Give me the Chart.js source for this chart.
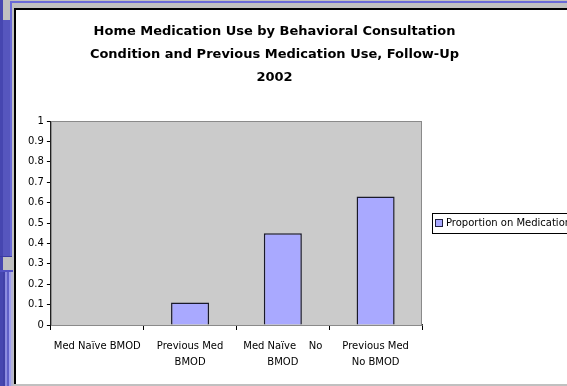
<!DOCTYPE html>
<html>
<head>
<meta charset="utf-8">
<script src="https://cdn.jsdelivr.net/npm/chart.js@4/dist/chart.umd.min.js"></script>
<style>
  html, body { margin: 0; padding: 0; }
  body { width: 567px; height: 386px; overflow: hidden; position: relative; background: #c0c0c0; }
  .strip { position: absolute; }
  #frame { position: absolute; left: 14px; top: 8px; width: 600px; height: 376px; background: #000; }
  #sheet { position: absolute; left: 16px; top: 10px; width: 600px; height: 374px; background: #fff; }
  #chart { position: absolute; left: 16px; top: 10px; }
</style>
</head>
<body>
<!-- window chrome around the chart sheet -->
<div class="strip" style="left:10px;top:1px;width:557px;height:2px;background:#6a6ad8"></div>
<div class="strip" style="left:0;top:0;width:3px;height:386px;background:#4646b0"></div>
<div class="strip" style="left:10px;top:1px;width:2px;height:255px;background:#6a6ad8"></div>
<div class="strip" style="left:3px;top:20px;width:7px;height:236px;background:#5656be"></div>
<div class="strip" style="left:0;top:256px;width:12px;height:1px;background:#3a3aa2"></div>
<div class="strip" style="left:0;top:270px;width:13px;height:2px;background:#5252c4"></div>
<div class="strip" style="left:3px;top:272px;width:2px;height:114px;background:#4040a8"></div>
<div class="strip" style="left:5px;top:272px;width:2px;height:114px;background:#8c8ce0"></div>
<div class="strip" style="left:7px;top:272px;width:2px;height:114px;background:#6060c8"></div>
<div class="strip" style="left:9px;top:272px;width:2px;height:114px;background:#a0a0f0"></div>
<div class="strip" style="left:11px;top:272px;width:2px;height:114px;background:#b4b4d4"></div>
<div id="frame"></div>
<div id="sheet"></div>
<canvas id="chart" width="560" height="373"></canvas>
<script>
const categories = [
  'Med Naïve BMOD',
  ['Previous Med', 'BMOD'],
  ['Med Naïve    No', 'BMOD'],
  ['Previous Med', 'No BMOD']
];
const seriesName = 'Proportion on Medication';
const proportionOnMedication = [0, 0.11, 0.45, 0.63];
const yTickLabels = ['0', '0.1', '0.2', '0.3', '0.4', '0.5', '0.6', '0.7', '0.8', '0.9', '1'];
const titleLines = [
  'Home Medication Use by Behavioral Consultation',
  'Condition and Previous Medication Use, Follow-Up',
  '2002'
];

const FONT = '"DejaVu Sans", Verdana, sans-serif';
const BAR_FILL = '#a9a9ff';

// Grey plot area with a thin grey frame, drawn before the datasets
const plotBackground = {
  id: 'plotBackground',
  beforeDatasetsDraw(chart) {
    const { ctx, chartArea: a } = chart;
    ctx.save();
    ctx.fillStyle = '#cbcbcb';
    ctx.fillRect(a.left, a.top, a.right - a.left, a.bottom - a.top);
    ctx.strokeStyle = '#8a8a8a';
    ctx.lineWidth = 1;
    ctx.strokeRect(a.left + 0.5, a.top + 0.5, a.right - a.left - 1, a.bottom - a.top);
    ctx.restore();
  }
};

// Title block and the boxed legend to the right of the plot
const decorations = {
  id: 'decorations',
  afterDraw(chart) {
    const { ctx, chartArea: a } = chart;
    ctx.save();
    ctx.fillStyle = '#000';
    ctx.font = 'bold 13px ' + FONT;
    ctx.textAlign = 'center';
    ctx.textBaseline = 'middle';
    titleLines.forEach((t, i) => ctx.fillText(t, 258.5, 22 + i * 23));

    const lx = a.right + 10, ly = Math.round((a.top + a.bottom) / 2) - 10;
    ctx.fillStyle = '#fff';
    ctx.fillRect(lx, ly, 200, 20);
    ctx.strokeStyle = '#000';
    ctx.lineWidth = 1;
    ctx.strokeRect(lx + 0.5, ly + 0.5, 200, 20);
    ctx.fillStyle = BAR_FILL;
    ctx.fillRect(lx + 3.5, ly + 6.5, 7, 7);
    ctx.strokeStyle = '#202040';
    ctx.strokeRect(lx + 3.5, ly + 6.5, 7, 7);
    ctx.fillStyle = '#000';
    ctx.font = '10px ' + FONT;
    ctx.textAlign = 'left';
    ctx.fillText(seriesName, lx + 14, ly + 10.5);
    ctx.restore();
  }
};

new Chart(document.getElementById('chart'), {
  type: 'bar',
  data: {
    labels: categories,
    datasets: [{
      label: seriesName,
      data: proportionOnMedication,
      backgroundColor: BAR_FILL,
      borderColor: '#1a1a2a',
      borderWidth: 1.5,
      barPercentage: 0.41,
      categoryPercentage: 1
    }]
  },
  options: {
    responsive: false,
    devicePixelRatio: 1,
    animation: false,
    layout: { padding: { top: 111, left: 9, right: 154, bottom: 4 } },
    plugins: { legend: { display: false }, title: { display: false }, tooltip: { enabled: false } },
    scales: {
      x: {
        grid: { display: true, drawOnChartArea: false, drawTicks: true, tickLength: 5, offset: true, color: '#000' },
        border: { display: true, color: '#333', width: 1.5 },
        ticks: { color: '#000', font: { family: FONT, size: 10, lineHeight: 1.65 }, padding: 8, maxRotation: 0, autoSkip: false }
      },
      y: {
        min: 0, max: 1,
        grid: { display: true, drawOnChartArea: false, drawTicks: true, tickLength: 4, color: '#000' },
        border: { display: true, color: '#000', width: 1 },
        ticks: {
          stepSize: 0.1, padding: 3, color: '#000',
          font: { family: FONT, size: 10 },
          callback: (v, i) => yTickLabels[i]
        }
      }
    }
  },
  plugins: [plotBackground, decorations]
});
</script>
</body>
</html>
